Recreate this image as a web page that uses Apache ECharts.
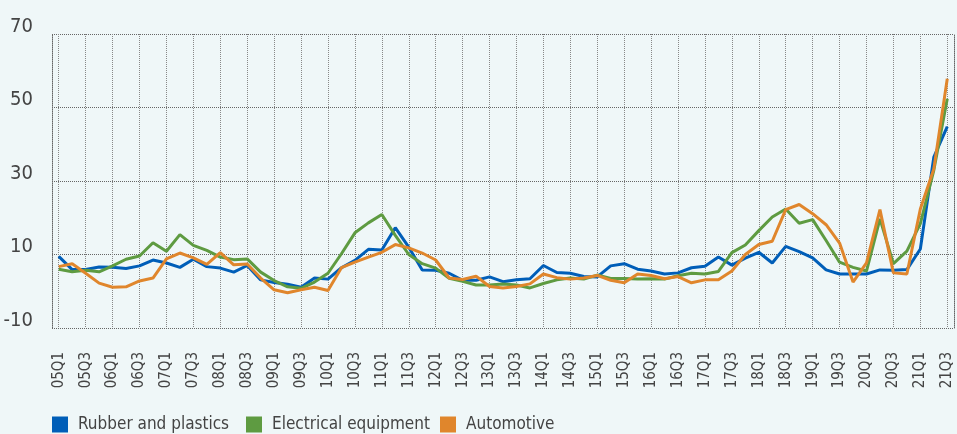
<!DOCTYPE html>
<html>
<head>
<meta charset="utf-8">
<script src="https://cdn.jsdelivr.net/npm/echarts@6/dist/echarts.min.js"></script>
<style>
  html, body { margin: 0; padding: 0; background: #eff7f8; }
  #chart { width: 957px; height: 434px; }
</style>
</head>
<body>
<div id="chart"></div>
<script>
// quarters 05Q1 .. 21Q3
const quarters = [];
for (let y = 5; y <= 21; y++) {
  for (let q = 1; q <= 4; q++) {
    if (y === 21 && q > 3) break;
    quarters.push((y < 10 ? "0" + y : "" + y) + "Q" + q);
  }
}

const rubber = [
  9.5, 5.9, 5.9, 6.6, 6.5, 6.2, 6.9, 8.5, 7.7, 6.5, 8.7, 6.7, 6.3, 5.2, 7.0, 3.1, 2.4, 1.9,
  1.1, 3.6, 3.3, 6.4, 8.4, 11.4, 11.2, 17.3, 12.0, 5.8, 5.7, 4.9, 3.0, 3.0, 3.9, 2.6, 3.1,
  3.4, 7.0, 5.1, 4.9, 4.0, 3.9, 6.9, 7.5, 6.0, 5.5, 4.7, 5.0, 6.4, 6.8, 9.3, 7.1, 9.0,
  10.6, 7.7, 12.2, 10.8, 9.1, 5.8, 4.7, 4.7, 4.7, 5.8, 5.7, 5.9, 11.5, 36.5, 44.8
];
const electrical = [
  6.0, 5.3, 5.7, 5.3, 6.9, 8.7, 9.6, 13.2, 10.9, 15.4, 12.5, 11.1, 9.3, 8.6, 8.8, 5.2, 2.9, 1.2,
  0.8, 2.5, 4.9, 10.2, 15.9, 18.6, 20.9, 15.2, 10.0, 7.5, 6.3, 3.5, 2.7, 1.7, 1.7, 2.0, 1.7,
  0.9, 2.1, 3.1, 3.6, 3.3, 4.4, 3.5, 3.5, 3.3, 3.4, 3.3, 4.2, 4.9, 4.7, 5.4, 10.5, 12.6,
  16.5, 20.2, 22.4, 18.5, 19.5, 13.8, 7.9, 6.5, 5.5, 19.7, 7.5, 10.9, 18.4, 32.9, 52.4
];
const automotive = [
  6.7, 7.5, 4.9, 2.2, 1.1, 1.2, 2.8, 3.6, 8.8, 10.4, 9.1, 7.3, 10.5, 7.2, 7.4, 3.6, 0.4, -0.4,
  0.4, 1.1, 0.2, 6.4, 7.9, 9.3, 10.6, 12.7, 11.8, 10.4, 8.5, 3.6, 3.2, 4.1, 1.3, 0.9, 1.3,
  2.0, 4.7, 3.7, 3.3, 3.6, 4.3, 3.0, 2.3, 4.7, 4.3, 3.4, 4.0, 2.3, 3.1, 3.1, 5.5, 10.0,
  12.7, 13.6, 22.2, 23.6, 21.1, 18.1, 13.1, 2.5, 7.7, 22.2, 5.0, 4.7, 22.4, 33.3, 57.8
];

const seriesNames = ["Rubber and plastics", "Electrical equipment", "Automotive"];
const seriesColors = ["#005eb8", "#5e9b41", "#e0862c"];
const legendLeft = [52, 246, 440];
const yMin = -10, yMax = 70, yStep = 20;

const font = "'Liberation Sans Narrow', 'DejaVu Sans Condensed', sans-serif";
const dotted = { type: "dotted", color: "#666", width: 1 };

let chart = echarts.init(document.getElementById("chart"));
chart.setOption({
  animation: false,
  backgroundColor: "#eff7f8",
  grid: { left: 52, right: 3, top: 34, bottom: 106, containLabel: false },
  // one legend per item so the squares sit where the original has them
  legend: seriesNames.map((n, k) => ({
    left: legendLeft[k],
    top: 416,
    padding: 0,
    icon: "rect",
    itemWidth: 16,
    itemHeight: 16,
    textStyle: { fontFamily: font, fontSize: 17, color: "#444", padding: [0, 0, 0, 5] },
    data: [n]
  })),
  xAxis: {
    type: "category",
    data: quarters,
    boundaryGap: true,
    axisLine: { show: false },
    axisTick: { show: false },
    axisLabel: {
      interval: 1,
      rotate: 90,
      margin: 24,
      fontFamily: font,
      fontSize: 15,
      color: "#444"
    },
    splitLine: {
      show: true,
      interval: 1,
      alignWithLabel: true,
      lineStyle: { type: "dotted", color: "#888", width: 1 }
    }
  },
  yAxis: [
    {
      type: "value",
      min: yMin,
      max: yMax,
      interval: yStep,
      axisLine: { show: true, lineStyle: dotted },
      axisTick: { show: false },
      axisLabel: {
        margin: 19,
        fontFamily: font,
        fontSize: 20,
        color: "#444",
        verticalAlign: "bottom",
        lineHeight: 15
      },
      splitLine: { show: true, lineStyle: dotted }
    },
    {
      type: "value",
      position: "right",
      min: yMin,
      max: yMax,
      interval: yStep,
      axisLine: { show: true, lineStyle: dotted },
      axisTick: { show: false },
      axisLabel: { show: false },
      splitLine: { show: false }
    }
  ],
  series: [rubber, electrical, automotive].map((d, k) => ({
    name: seriesNames[k],
    type: "line",
    data: d,
    symbol: "none",
    color: seriesColors[k],
    lineStyle: { width: 3, color: seriesColors[k] }
  }))
});
</script>
</body>
</html>
